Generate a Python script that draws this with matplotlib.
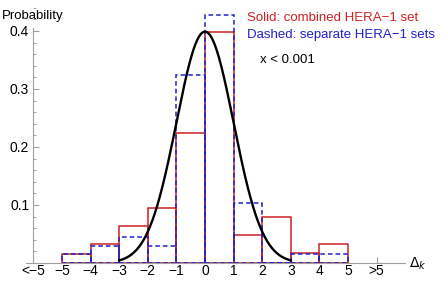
import numpy as np
import matplotlib
matplotlib.use("Agg")
import matplotlib.pyplot as plt
from matplotlib.ticker import MultipleLocator

plt.rcParams['font.family'] = ['Liberation Sans', 'DejaVu Sans']

# Data
bin_edges = [-5, -4, -3, -2, -1, 0, 1, 2, 3, 4]          # left edges, width 1
combined = [0.016, 0.032, 0.064, 0.095, 0.224, 0.399, 0.048, 0.080, 0.017, 0.032]
separate = [0.015, 0.029, 0.044, 0.029, 0.324, 0.428, 0.104, 0.0, 0.015, 0.015]
xtick_pos = [-6, -5, -4, -3, -2, -1, 0, 1, 2, 3, 4, 5, 6]
xtick_labels = ['<\u22125', '\u22125', '\u22124', '\u22123', '\u22122', '\u22121',
                '0', '1', '2', '3', '4', '5', '>5']
ytick_pos = [0.1, 0.2, 0.3, 0.4]

W, H = 442, 281
fig = plt.figure(figsize=(W / 100, H / 100), dpi=100)

xmin, xmax = -6.25, 7.0
ymin, ymax = 0.0, 0.44
px_per_x = 28.6
x0_px = 205.0
px_per_y = 580.0
y0_px = 263.0
left = x0_px + xmin * px_per_x
right = x0_px + xmax * px_per_x
top = y0_px - ymax * px_per_y
bottom = y0_px
ax = fig.add_axes([left / W, 1 - bottom / H, (right - left) / W, (bottom - top) / H])
ax.set_xlim(xmin, xmax)
ax.set_ylim(ymin, ymax)

red = '#cc2222'
blue = '#2020cc'
ax.bar(bin_edges, combined, width=1, align='edge', fill=False,
       edgecolor=red, linewidth=1.1, zorder=2)
ax.bar(bin_edges, separate, width=1, align='edge', fill=False,
       edgecolor=blue, linewidth=1.1, linestyle=(0, (3, 2)), zorder=3)

xs = np.linspace(-3, 3, 300)
ax.plot(xs, np.exp(-xs ** 2 / 2) / np.sqrt(2 * np.pi), color='black', lw=1.7, zorder=4)

for s in ['top', 'right']:
    ax.spines[s].set_visible(False)
ax.spines['left'].set_position(('data', -6))
ax.spines['left'].set_bounds(0, 0.405)
ax.spines['bottom'].set_position(('data', 0))
axis_gray = '#a0a0a0'
ax.spines['left'].set_color(axis_gray)
ax.spines['bottom'].set_color(axis_gray)
ax.spines['left'].set_linewidth(0.8)
ax.spines['bottom'].set_linewidth(0.8)

ax.set_xticks(xtick_pos)
ax.set_xticklabels(xtick_labels)
ax.set_yticks(ytick_pos)
ax.set_yticklabels([f'{v:.1f}' for v in ytick_pos])
ax.yaxis.set_minor_locator(MultipleLocator(0.02))
ax.tick_params(axis='both', which='major', direction='in', color=axis_gray,
               labelsize=10, length=4, width=0.8, pad=3)
ax.tick_params(axis='y', which='minor', direction='in', color=axis_gray,
               length=2.5, width=0.7)
ax.tick_params(axis='x', pad=1)

fig.text(2 / W, 1 - 16 / H, 'Probability', fontsize=9.5, ha='left', va='center')
fig.text(247 / W, 1 - 18 / H, 'Solid: combined HERA\u22121 set', fontsize=9.5,
         color=red, ha='left', va='center')
fig.text(247 / W, 1 - 35 / H, 'Dashed: separate HERA\u22121 sets', fontsize=9.5,
         color=blue, ha='left', va='center')
fig.text(260 / W, 1 - 60 / H, 'x < 0.001', fontsize=9.5, ha='left', va='center')
fig.text(409 / W, 1 - 264 / H, r'$\Delta_k$', fontsize=10, ha='left', va='center')

fig.savefig('out.png', dpi=100)
